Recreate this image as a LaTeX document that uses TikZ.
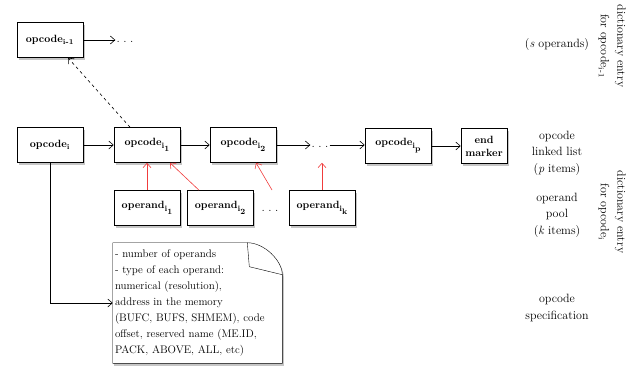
\documentclass[tikz,border=0pt]{standalone}
\usetikzlibrary{shadows,backgrounds,arrows.meta}
\newcommand{\isub}[1]{\raisebox{-2.5pt}{\footnotesize i}\raisebox{-6pt}{\footnotesize #1}}
\newcommand{\gapdots}{\raisebox{-4pt}{.\hspace{3.5pt}.\hspace{3.5pt}.}}
\begin{document}
\begin{tikzpicture}[x=1pt,y=-1pt, line width=0.6pt,
    box/.style={draw, fill=white, minimum width=66pt, minimum height=35pt, inner sep=2pt,
        font=\bfseries\fontsize{10.5}{13}\selectfont,
        drop shadow={shadow xshift=1.5pt, shadow yshift=-2.5pt, opacity=0.45}},
    lbl/.style={align=center, font=\fontsize{12}{16.5}\selectfont},
    gap/.style={font=\fontsize{12}{16}\selectfont, minimum height=35pt, inner sep=1pt},
    link/.style={-{Straight Barb[length=4.5pt,width=8pt]}},
    feed/.style={link, opred}]
    % Define colors
    \definecolor{opred}{RGB}{240, 60, 60}

    \useasboundingbox (0,0) rectangle (639,369);

    % Previous dictionary entry
    \node[box] (oprev) at (50,40) {opcode\textsubscript{i-1}};
    \node[gap] (dotsA) at (125,40) {\gapdots};

    % Opcode linked list
    \node[box] (op) at (50,145) {opcode\textsubscript{i}};
    \node[box] (o1) at (147,145) {opcode\isub{1}};
    \node[box] (o2) at (243,145) {opcode\isub{2}};
    \node[gap] (dotsB) at (320,145) {\gapdots};
    \node[box] (op2) at (398,146) {opcode\isub{p}};
    \node[box, minimum width=46pt, align=center] (endm) at (484,146) {end\\marker};

    % Operand pool
    \node[box] (p1) at (147,208) {operand\isub{1}};
    \node[box] (p2) at (220,208) {operand\isub{2}};
    \node[gap] (dotsC) at (270,209) {\gapdots};
    \node[box] (pk) at (322,208) {operand\isub{k}};
    \coordinate (tipC) at (272,190);

    % Opcode specification note
    \node[align=left, font=\fontsize{11}{16}\selectfont, minimum width=169pt, minimum height=120pt,
          text width=165pt, inner sep=2pt] (spec) at (197.5,303)
        {- number of operands\\
         - type of each operand:\\
         numerical (resolution),\\
         address in the memory\\
         (BUFC, BUFS, SHMEM), code\\
         offset, reserved name (ME.ID,\\
         PACK, ABOVE, ALL, etc)};
    \begin{scope}[on background layer]
        \draw[fill=white, drop shadow={shadow xshift=1.5pt, shadow yshift=-2.5pt, opacity=0.45}]
            (spec.north west) -- ([xshift=-35pt]spec.north east)
            .. controls ([xshift=-18pt]spec.north east) and ([yshift=-18pt]spec.north east) .. ([yshift=-32pt]spec.north east)
            -- (spec.south east) -- (spec.south west) -- cycle;
        \draw ([xshift=-35pt]spec.north east) -- ([xshift=-33pt,yshift=-24pt]spec.north east)
            -- ([yshift=-32pt]spec.north east);
    \end{scope}

    % Connectors
    \draw[link] (oprev) -- (dotsA);
    \draw[link] (op) -- (o1);
    \draw[link] (o1) -- (o2);
    \draw[link] (o2) -- (dotsB);
    \draw[link] (dotsB.east) -- (dotsB.east -| op2.west);
    \draw[link] (op2) -- (endm);
    \draw[link, dashed] ([xshift=-17pt]o1.north) -- ([xshift=18pt]oprev.south);
    \draw[link] (op.south) |- (spec.west);

    % Operands feeding the list
    \draw[feed] (p1.north) -- (o1.south);
    \draw[feed] ([xshift=-21pt]p2.north) -- ([xshift=23pt]o1.south);
    \draw[feed] (tipC) -- ([xshift=13pt]o2.south);
    \draw[feed] (pk.north) -- (pk.north |- dotsB.south);

    % Labels on the right
    \node[lbl] (lblS) at (557,45) {(\textit{s} operands)};
    \node[lbl] (lblList) at (557,153) {opcode\\linked list\\(\textit{p} items)};
    \node[lbl] (lblPool) at (557,215) {operand\\pool\\(\textit{k} items)};
    \node[lbl] (lblSpec) at (557,308) {opcode\\specification};
    \node[lbl, rotate=-90] (dictA) at (612,46) {dictionary entry\\for opcode\textsubscript{i-1}};
    \node[lbl, rotate=-90] (dictB) at (612,212) {dictionary entry\\for opcode\textsubscript{i}};

\end{tikzpicture}
\end{document}
